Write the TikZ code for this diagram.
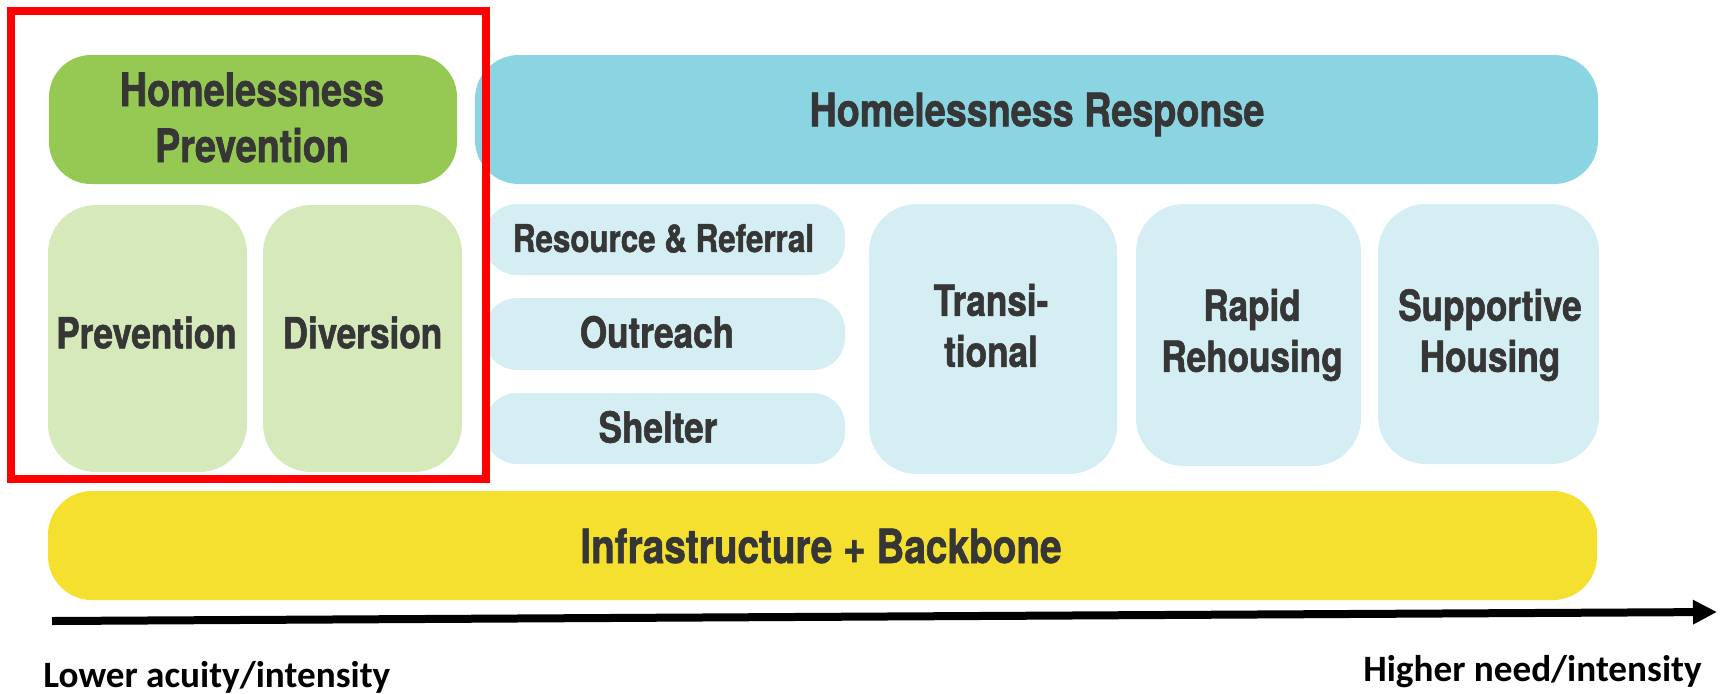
\documentclass[tikz,border=0pt]{standalone}
\usepackage{fontspec}
\newfontfamily\condsans{TeX Gyre Heros}[FakeStretch=0.82, BoldFeatures={FakeBold=1.3}]
\newfontfamily\labelsans{Carlito}
\usetikzlibrary{arrows.meta,fit}
\definecolor{prevdark}{HTML}{96C953}
\definecolor{prevlight}{HTML}{D5E9BB}
\definecolor{respdark}{HTML}{8BD4E1}
\definecolor{resplight}{HTML}{D5EEF3}
\definecolor{infra}{HTML}{F5E02F}
\definecolor{ink}{HTML}{363636}
\definecolor{frame}{HTML}{FF0000}
\begin{document}
\begin{tikzpicture}[x=0.5pt,y=-0.5pt,
  panel/.style={inner sep=0pt, draw=none, fill=#1},
  header/.style={font=\condsans\bfseries\fontsize{23}{28}\selectfont, text=ink, align=center, inner sep=0pt},
  boxtext/.style={font=\condsans\bfseries\fontsize{21.4}{25.5}\selectfont, text=ink, align=center, inner sep=0pt},
  smalltext/.style={font=\condsans\bfseries\fontsize{19.1}{23}\selectfont, text=ink, align=center, inner sep=0pt},
  axislabel/.style={font=\labelsans\bfseries\fontsize{18.6}{22}\selectfont, text=black, inner sep=0pt}]
\useasboundingbox (0,0) rectangle (1725,693);

% prevention column
\node[panel=prevdark, rounded corners=21pt, fit={(49,55) (457,184)}] (hp) {};
\node[panel=prevlight, rounded corners=24pt, fit={(48,205) (247,472)}] (prev) {};
\node[panel=prevlight, rounded corners=24pt, fit={(263,205) (462,472)}] (div) {};

% response columns
\node[panel=respdark, rounded corners=22pt, fit={(475,55) (1598,184)}] (hr) {};
\node[panel=resplight, rounded corners=16pt, fit={(485,204) (845,275)}] (rr) {};
\node[panel=resplight, rounded corners=16pt, fit={(485,298) (845,370)}] (out) {};
\node[panel=resplight, rounded corners=16pt, fit={(485,393) (845,464)}] (shel) {};
\node[panel=resplight, rounded corners=24pt, fit={(869,204) (1117,474)}] (trans) {};
\node[panel=resplight, rounded corners=24pt, fit={(1136,204) (1361,466)}] (rapid) {};
\node[panel=resplight, rounded corners=24pt, fit={(1378,204) (1599,464)}] (supp) {};

% backbone
\node[panel=infra, rounded corners=22pt, fit={(48,491) (1597,600)}] (infra) {};

% texts
\node[header] (hpT) at (252,117.5) {Homelessness\\Prevention};
\node[header] (hrT) at (1037,114.5) {Homelessness Response};
\node[boxtext] (prevT) at (146.5,332.5) {Prevention};
\node[boxtext] (divT) at (362.5,332.5) {Diversion};
\node[smalltext] (rrT) at (663.5,238.5) {Resource \& Referral};
\node[boxtext] (outT) at (657,332) {Outreach};
\node[boxtext] (shelT) at (658,427) {Shelter};
\node[boxtext] (transT) at (991,325.5) {Transi-\\tional};
\node[boxtext] (rapidT) at (1252,335) {Rapid\\Rehousing};
\node[boxtext] (suppT) at (1490,335) {Supportive\\Housing};
\node[header, font=\condsans\bfseries\fontsize{23.6}{28}\selectfont] (infraT) at (821,546) {Infrastructure + Backbone};

% intensity axis
\coordinate (axisL) at (52,621);
\coordinate (axisR) at (1717,612);
\draw[line width=4pt, -{Triangle[length=12pt,width=11.5pt]}] (axisL) -- (axisR);
\node[axislabel, anchor=base west] (lowT) at (43,687) {Lower acuity/intensity};
\node[axislabel, anchor=base east] (highT) at (1702,681) {Higher need/intensity};

% highlight frame around the prevention column
\node[draw=frame, line width=4pt, inner sep=0pt, fit={(11,11) (486,479)}] (focus) {};
\end{tikzpicture}
\end{document}
